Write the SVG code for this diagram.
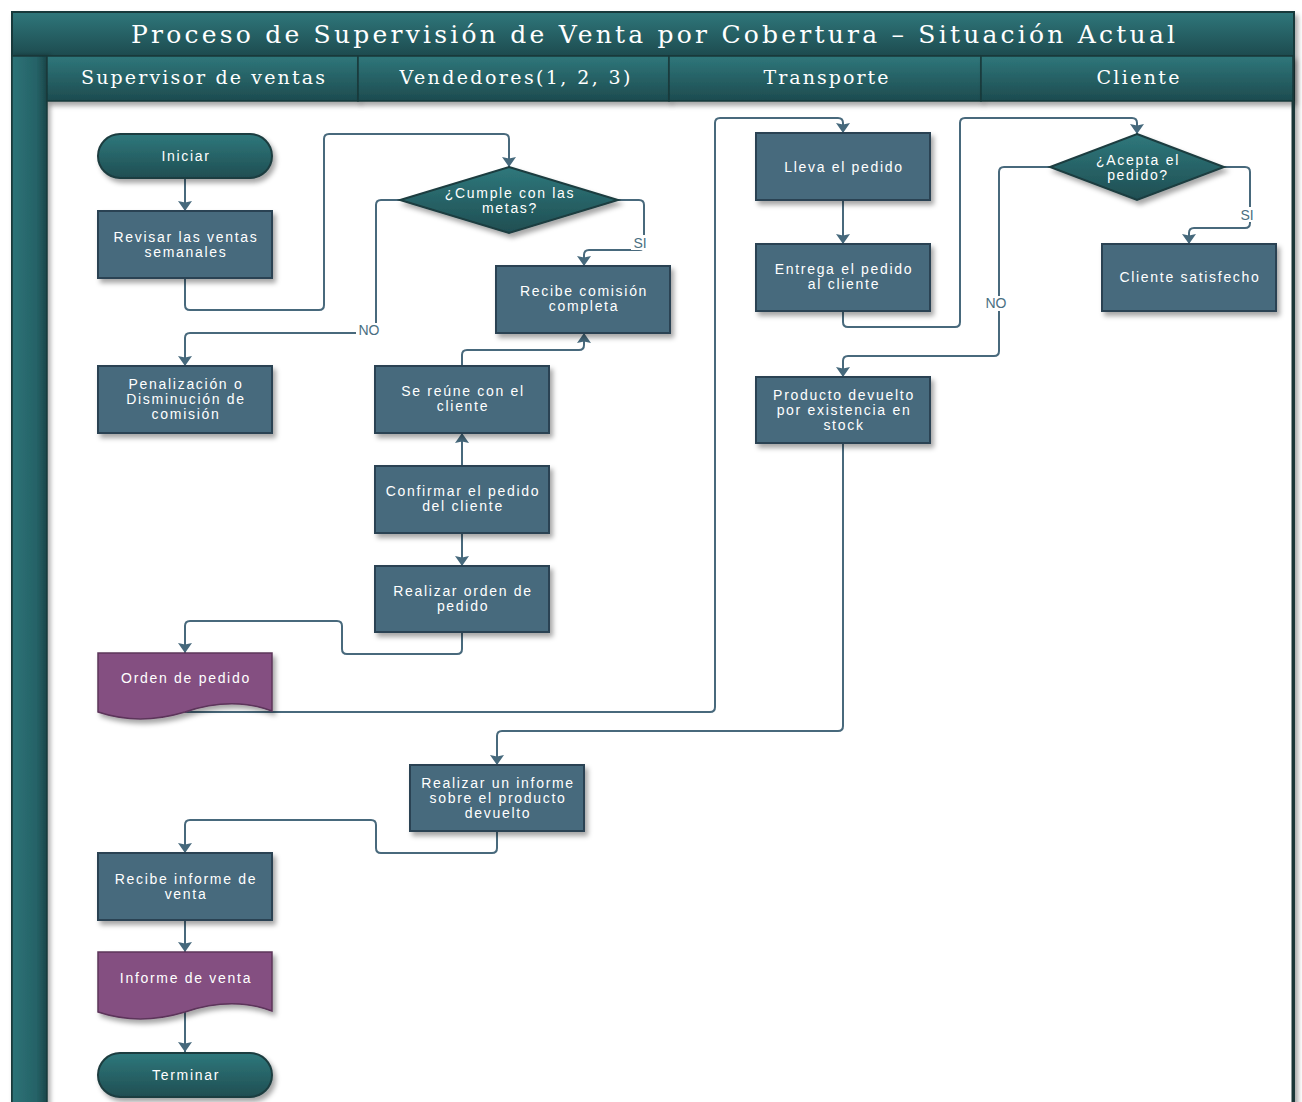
<svg xmlns="http://www.w3.org/2000/svg" width="1302" height="1102" viewBox="0 0 1302 1102">
<defs>
<linearGradient id="gTeal" x1="0" y1="0" x2="0" y2="1">
<stop offset="0" stop-color="#2f777b"/><stop offset="1" stop-color="#1d4b4f"/>
</linearGradient>
<linearGradient id="gBand" x1="0" y1="0" x2="1" y2="0">
<stop offset="0" stop-color="#2d7377"/><stop offset="0.7" stop-color="#256267"/><stop offset="1" stop-color="#1b4649"/>
</linearGradient>
<linearGradient id="gShape" x1="0" y1="0" x2="0" y2="1">
<stop offset="0" stop-color="#2f787c"/><stop offset="1" stop-color="#1f4e52"/>
</linearGradient>
<filter id="sh" x="-10%" y="-10%" width="130%" height="140%">
<feDropShadow dx="3" dy="4" stdDeviation="2.5" flood-color="#000" flood-opacity="0.35"/>
</filter>
<filter id="lsh" x="-50%" y="-1%" width="300%" height="102%">
<feDropShadow dx="3" dy="0" stdDeviation="2" flood-color="#000" flood-opacity="0.3"/>
</filter>
<marker id="ah" viewBox="0 0 10 14" refX="10" refY="7" markerWidth="10" markerHeight="14" markerUnits="userSpaceOnUse" orient="auto">
<path d="M0,0 L10,7 L0,14 L1.5,7 z" fill="#46697c"/>
</marker>
<style>
.proc{fill:#476a7d;stroke:#2c4352;stroke-width:2;filter:url(#sh)}
.term{fill:url(#gShape);stroke:#1c3c3f;stroke-width:2;filter:url(#sh)}
.doc{fill:#844f81;stroke:#5c345a;stroke-width:1.5;filter:url(#sh)}
.t{font-family:"Liberation Sans",Arial,sans-serif;font-size:14px;fill:#ffffff;text-anchor:middle;letter-spacing:1.7px}
.hd{font-family:"DejaVu Serif","Liberation Serif",serif;font-size:19px;fill:#ffffff;text-anchor:middle}
.c{fill:none;stroke:#48697c;stroke-width:2;marker-end:url(#ah)}
.lbl{font-family:"Liberation Sans",Arial,sans-serif;font-size:14px;fill:#4a6f82;text-anchor:middle}
.lane{stroke:#1a3638;stroke-width:3}
</style>
</defs>
<g id="frame">
<rect x="0" y="0" width="1302" height="1102" fill="#ffffff"/>
<rect x="12" y="12" width="1282" height="1095" fill="#ffffff" stroke="#1a3a3c" stroke-width="2" filter="url(#sh)"/>
<rect x="12" y="12" width="1282" height="44" fill="url(#gTeal)" stroke="#17393b" stroke-width="2"/>
<text x="653" y="43" font-family="'DejaVu Serif','Liberation Serif',serif" font-size="25" fill="#ffffff" text-anchor="middle" textLength="1044" lengthAdjust="spacing">Proceso de Supervisión de Venta por Cobertura – Situación Actual</text>
<rect x="12" y="56" width="35" height="1050" fill="url(#gBand)" stroke="#17393b" stroke-width="1.5" filter="url(#lsh)"/>
<g id="headers">
<rect x="47" y="56" width="311" height="45" fill="url(#gTeal)" stroke="#17393b" stroke-width="1.5" filter="url(#sh)"/>
<rect x="358" y="56" width="311" height="45" fill="url(#gTeal)" stroke="#17393b" stroke-width="1.5" filter="url(#sh)"/>
<rect x="669" y="56" width="312" height="45" fill="url(#gTeal)" stroke="#17393b" stroke-width="1.5" filter="url(#sh)"/>
<rect x="981" y="56" width="312" height="45" fill="url(#gTeal)" stroke="#17393b" stroke-width="1.5" filter="url(#sh)"/>
<text class="hd" x="203" y="84" textLength="244" lengthAdjust="spacing">Supervisor de ventas</text>
<text class="hd" x="515" y="84" textLength="231" lengthAdjust="spacing">Vendedores(1, 2, 3)</text>
<text class="hd" x="826" y="84" textLength="125" lengthAdjust="spacing">Transporte</text>
<text class="hd" x="1138" y="84" textLength="83" lengthAdjust="spacing">Cliente</text>
</g>
<g id="lanes">
<line class="lane" x1="358" y1="101" x2="358" y2="1102" filter="url(#lsh)"/>
<line class="lane" x1="669" y1="101" x2="669" y2="1102" filter="url(#lsh)"/>
<line class="lane" x1="981" y1="101" x2="981" y2="1102" filter="url(#lsh)"/>
<line class="lane" x1="1293" y1="101" x2="1293" y2="1102"/>
</g>
</g>
<g id="connectors">
<path class="c" d="M185,178 V211"/>
<path class="c" d="M185,278 V305 Q185,310 190,310 H319 Q324,310 324,305 V139 Q324,134 329,134 H504 Q509,134 509,139 V167"/>
<path class="c" d="M618,200 H639 Q644,200 644,205 V245 Q644,250 639,250 H589 Q584,250 584,255 V266"/>
<path class="c" d="M400,200 H381 Q376,200 376,205 V328 Q376,333 371,333 H190 Q185,333 185,338 V366"/>
<path class="c" d="M462,366 V355 Q462,350 467,350 H579 Q584,350 584,345 V333"/>
<path class="c" d="M462,466 V433"/>
<path class="c" d="M462,533 V566"/>
<path class="c" d="M462,632 V649 Q462,654 457,654 H347 Q342,654 342,649 V626 Q342,621 337,621 H190 Q185,621 185,626 V653"/>
<path class="c" d="M185,712 H710 Q715,712 715,707 V123 Q715,118 720,118 H838 Q843,118 843,123 V133"/>
<path class="c" d="M843,200 V244"/>
<path class="c" d="M843,311 V322 Q843,327 848,327 H955 Q960,327 960,322 V123 Q960,118 965,118 H1132 Q1137,118 1137,123 V134"/>
<path class="c" d="M1224,167 H1245 Q1250,167 1250,172 V223 Q1250,228 1245,228 H1194 Q1189,228 1189,233 V244"/>
<path class="c" d="M1050,167 H1004 Q999,167 999,172 V351 Q999,356 994,356 H848 Q843,356 843,361 V377"/>
<path class="c" d="M843,443 V726 Q843,731 838,731 H502 Q497,731 497,736 V765"/>
<path class="c" d="M497,831 V848 Q497,853 492,853 H381 Q376,853 376,848 V825 Q376,820 371,820 H190 Q185,820 185,825 V853"/>
<path class="c" d="M185,920 V952"/>
<path class="c" d="M185,1012 V1052"/>
<rect x="631" y="235" width="18" height="15" fill="#ffffff"/>
<text class="lbl" x="640" y="248">SI</text>
<rect x="356" y="323" width="27" height="15" fill="#ffffff"/>
<text class="lbl" x="369" y="335">NO</text>
<rect x="1238" y="207" width="18" height="15" fill="#ffffff"/>
<text class="lbl" x="1247" y="220">SI</text>
<rect x="983" y="296" width="27" height="15" fill="#ffffff"/>
<text class="lbl" x="996" y="308">NO</text>
</g>
<g id="n_iniciar">
<rect class="term" x="98" y="134" width="174" height="44" rx="22"/>
<text class="t" x="186" y="161">Iniciar</text>
</g>
<g id="n_revisar">
<rect class="proc" x="98" y="211" width="174" height="67"/>
<text class="t" x="186" y="242">Revisar las ventas</text>
<text class="t" x="186" y="257">semanales</text>
</g>
<g id="n_penalizacion">
<rect class="proc" x="98" y="366" width="174" height="67"/>
<text class="t" x="186" y="389">Penalización o</text>
<text class="t" x="186" y="404">Disminución de</text>
<text class="t" x="186" y="419">comisión</text>
</g>
<g id="n_orden_doc">
<path class="doc" d="M98,653 H272 V711 C245,701 215,702 185,712 C152,722 122,720 98,712 Z"/>
<text class="t" x="186" y="683">Orden de pedido</text>
</g>
<g id="n_recibe_informe">
<rect class="proc" x="98" y="853" width="174" height="67"/>
<text class="t" x="186" y="884">Recibe informe de</text>
<text class="t" x="186" y="899">venta</text>
</g>
<g id="n_informe_doc">
<path class="doc" d="M98,952 H272 V1011 C245,1001 215,1002 185,1012 C152,1022 122,1020 98,1012 Z"/>
<text class="t" x="186" y="983">Informe de venta</text>
</g>
<g id="n_terminar">
<rect class="term" x="98" y="1053" width="174" height="44" rx="22"/>
<text class="t" x="186" y="1080">Terminar</text>
</g>
<g id="n_cumple">
<polygon class="term" points="509,167 618,200 509,233 400,200"/>
<text class="t" x="510" y="198">¿Cumple con las</text>
<text class="t" x="510" y="213">metas?</text>
</g>
<g id="n_recibe_comision">
<rect class="proc" x="496" y="266" width="174" height="67"/>
<text class="t" x="584" y="296">Recibe comisión</text>
<text class="t" x="584" y="311">completa</text>
</g>
<g id="n_reune">
<rect class="proc" x="375" y="366" width="174" height="67"/>
<text class="t" x="463" y="396">Se reúne con el</text>
<text class="t" x="463" y="411">cliente</text>
</g>
<g id="n_confirmar">
<rect class="proc" x="375" y="466" width="174" height="67"/>
<text class="t" x="463" y="496">Confirmar el pedido</text>
<text class="t" x="463" y="511">del cliente</text>
</g>
<g id="n_realizar_orden">
<rect class="proc" x="375" y="566" width="174" height="66"/>
<text class="t" x="463" y="596">Realizar orden de</text>
<text class="t" x="463" y="611">pedido</text>
</g>
<g id="n_realizar_informe">
<rect class="proc" x="410" y="765" width="174" height="66"/>
<text class="t" x="498" y="788">Realizar un informe</text>
<text class="t" x="498" y="803">sobre el producto</text>
<text class="t" x="498" y="818">devuelto</text>
</g>
<g id="n_lleva">
<rect class="proc" x="756" y="133" width="174" height="67"/>
<text class="t" x="844" y="172">Lleva el pedido</text>
</g>
<g id="n_entrega">
<rect class="proc" x="756" y="244" width="174" height="67"/>
<text class="t" x="844" y="274">Entrega el pedido</text>
<text class="t" x="844" y="289">al cliente</text>
</g>
<g id="n_producto">
<rect class="proc" x="756" y="377" width="174" height="66"/>
<text class="t" x="844" y="400">Producto devuelto</text>
<text class="t" x="844" y="415">por existencia en</text>
<text class="t" x="844" y="430">stock</text>
</g>
<g id="n_acepta">
<polygon class="term" points="1137,134 1224,167 1137,200 1050,167"/>
<text class="t" x="1138" y="165">¿Acepta el</text>
<text class="t" x="1138" y="180">pedido?</text>
</g>
<g id="n_satisfecho">
<rect class="proc" x="1102" y="244" width="174" height="67"/>
<text class="t" x="1190" y="282">Cliente satisfecho</text>
</g>
</svg>
